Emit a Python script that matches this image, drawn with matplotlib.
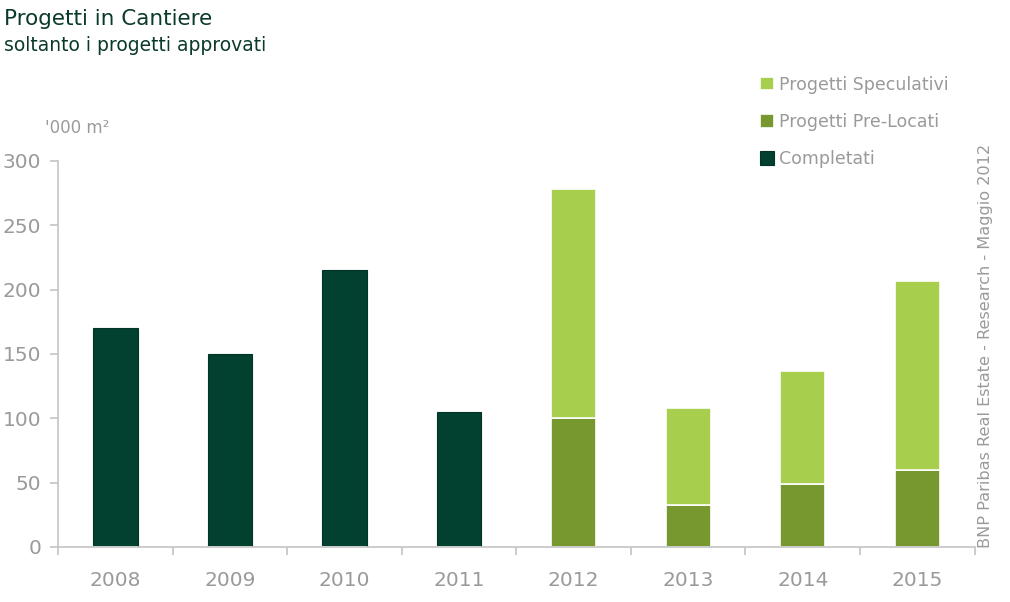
import matplotlib.pyplot as plt
import numpy as np

years = ['2008', '2009', '2010', '2011', '2012', '2013', '2014', '2015']
completati = [170, 150, 215, 105, 0, 0, 0, 0]
pre_locati = [0, 0, 0, 0, 100, 33, 49, 60]
speculativi = [0, 0, 0, 0, 178, 75, 88, 147]

c_dark = '#02402f'
c_mid = '#77982f'
c_light = '#a8ce4e'
grey = '#9a9a9a'
axis_grey = '#c4c4c4'

plt.rcParams['font.family'] = ['DejaVu Sans']

fig = plt.figure(figsize=(10.1, 6.02), dpi=100)
ax = fig.add_axes([0.0574, 0.0914, 0.9076, 0.6412])

x = np.arange(len(years))
w = 0.39
ax.bar(x, completati, w, color=c_dark, edgecolor='#013326', linewidth=0.8, label='Completati')
ax.bar(x, pre_locati, w, color=c_mid, edgecolor='white', linewidth=1.2, label='Progetti Pre-Locati')
ax.bar(x, speculativi, w, bottom=pre_locati, color=c_light, edgecolor='white', linewidth=1.2,
       label='Progetti Speculativi')

ax.set_xlim(-0.5, len(years) - 0.5)
ax.set_ylim(0, 300)
ax.set_yticks(range(0, 301, 50))
ax.set_xticks(x)
ax.set_xticklabels(years)
ax.set_xticks(np.arange(-0.5, len(years)), minor=True)

for s in ['top', 'right']:
    ax.spines[s].set_visible(False)
for s in ['left', 'bottom']:
    ax.spines[s].set_color(axis_grey)
    ax.spines[s].set_linewidth(1.2)

ax.tick_params(axis='x', which='major', length=0, pad=17, labelsize=14.5, labelcolor=grey)
ax.tick_params(axis='x', which='minor', length=6, color=axis_grey, width=1.2, direction='out')
ax.tick_params(axis='y', length=6, color=axis_grey, width=1.2, pad=6, labelsize=14.5, labelcolor=grey)

handles, labels = ax.get_legend_handles_labels()
leg = fig.legend(handles[::-1], labels[::-1], loc='upper left', bbox_to_anchor=(0.737, 0.9),
                 frameon=False, fontsize=12.5, handlelength=0.8, handleheight=0.8,
                 handletextpad=0.3, labelspacing=1.1, labelcolor=grey)

fig.text(0.004, 0.985, 'Progetti in Cantiere', fontsize=15.5, color='#0b3b28', va='top')
fig.text(0.004, 0.94, 'soltanto i progetti approvati', fontsize=13.5, color='#0b3b28', va='top')
fig.text(0.045, 0.787, "'000 m²", fontsize=12, color=grey, va='center')
fig.text(0.976, 0.09, 'BNP Paribas Real Estate - Research - Maggio 2012', fontsize=11.6,
         color=grey, rotation=90, ha='center', va='bottom')

fig.savefig('out.png', dpi=100)
